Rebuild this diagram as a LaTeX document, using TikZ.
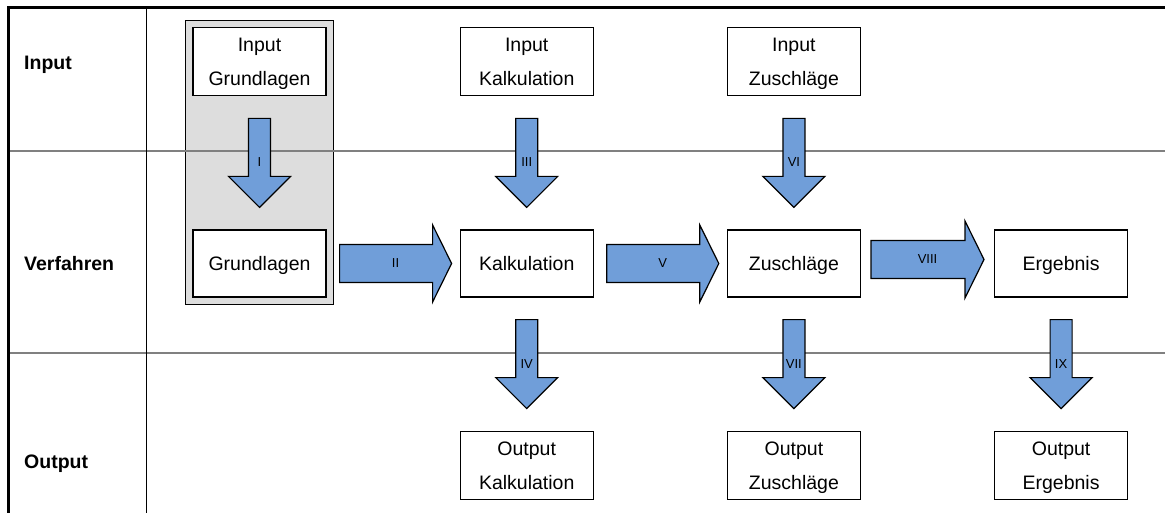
\documentclass[tikz,border=0pt]{standalone}
\usepackage{fontspec}
\setmainfont{Liberation Sans}
\usepackage{tikz}
\usetikzlibrary{positioning, calc, fit, backgrounds}
\definecolor{arrBlue}{RGB}{112,158,217}
\definecolor{grpGray}{RGB}{221,221,221}
\definecolor{lineGray}{RGB}{128,128,128}

% block arrow pointing down, from node #1 to node #2
\newcommand{\vblock}[3]{%
  \coordinate (s) at ($(#1.south)+(0,-22)$);
  \coordinate (e) at ($(#2.north)+(0,22)$);
  \draw[blk] ($(s)+(-11,0)$) -- ($(e)+(-11,31)$) -- ($(e)+(-31,31)$) -- (e)
    -- ($(e)+(31,31)$) -- ($(e)+(11,31)$) -- ($(s)+(11,0)$) -- cycle;
  \node[albl] at ($(s)+(0,-44)$) {#3};
}
% block arrow pointing right, from node #2 to node #3
\newcommand{\hblock}[6][0]{%
  \coordinate (s) at ($(#2.east)+(#5,#1)$);
  \coordinate (e) at ($(#3.west)+(-#6,#1)$);
  \draw[blk] ($(s)+(0,19)$) -- ($(e)+(-19,19)$) -- ($(e)+(-19,38.5)$) -- (e)
    -- ($(e)+(-19,-38.5)$) -- ($(e)+(-19,-19)$) -- ($(s)+(0,-19)$) -- cycle;
  \node[albl] at ($(s)!0.5!(e)$) {#4};
}

\begin{document}
\begin{tikzpicture}[
  x=1pt, y=1pt,
  node distance=133pt,
  box/.style={draw, line width=1.2pt, fill=white, minimum width=133pt,
    minimum height=67pt, inner sep=0pt, align=center,
    font=\fontsize{19.5}{34}\selectfont},
  rowlbl/.style={anchor=west, inner sep=0pt, font=\bfseries\fontsize{19.5}{23}\selectfont},
  blk/.style={draw, line width=1.2pt, fill=arrBlue, line join=miter},
  albl/.style={inner sep=0pt, font=\fontsize{13}{15}\selectfont},
]
  \useasboundingbox (0,0) rectangle (1165,-513);

  % rows
  \node[rowlbl] (rIn)  at (24,-65)  {Input};
  \node[rowlbl] (rVer) at (24,-264) {Verfahren};
  \node[rowlbl] (rOut) at (24,-464) {Output};

  % Verfahren
  \node[box] (grund) at (259.5,-263.5) {\strut Grundlagen};
  \node[box, right=of grund] (kalk) {\strut Kalkulation};
  \node[box, right=of kalk] (zus) {\strut Zuschläge};
  \node[box, right=of zus] (erg) {\strut Ergebnis};

  % Input
  \node[box, above=of grund] (inGrund) {\strut Input\\\strut Grundlagen};
  \node[box, above=of kalk] (inKalk) {\strut Input\\\strut Kalkulation};
  \node[box, above=of zus] (inZus) {\strut Input\\\strut Zuschläge};

  % Output
  \node[box, below=of kalk] (outKalk) {\strut Output\\\strut Kalkulation};
  \node[box, below=of zus] (outZus) {\strut Output\\\strut Zuschläge};
  \node[box, below=of erg] (outErg) {\strut Output\\\strut Ergebnis};

  \begin{scope}[on background layer]
    \node[fit=(inGrund)(grund), inner sep=7pt, draw, line width=1.2pt,
      fill=grpGray] (grp) {};
    \draw[lineGray, line width=1.5pt] (8,-151) -- (1165,-151);
    \draw[lineGray, line width=1.5pt] (8,-353) -- (1165,-353);
    \draw[line width=1pt] (146,-8) -- (146,-513);
    \draw[line width=3pt, line join=miter] (8,-513) -- (8,-8) -- (1165,-8);
  \end{scope}

  \vblock{inGrund}{grund}{I}
  \hblock{grund}{kalk}{II}{13}{8}
  \vblock{inKalk}{kalk}{III}
  \vblock{kalk}{outKalk}{IV}
  \hblock{kalk}{zus}{V}{13}{8}
  \vblock{inZus}{zus}{VI}
  \vblock{zus}{outZus}{VII}
  \hblock[4]{zus}{erg}{VIII}{10}{10}
  \vblock{erg}{outErg}{IX}
\end{tikzpicture}
\end{document}
